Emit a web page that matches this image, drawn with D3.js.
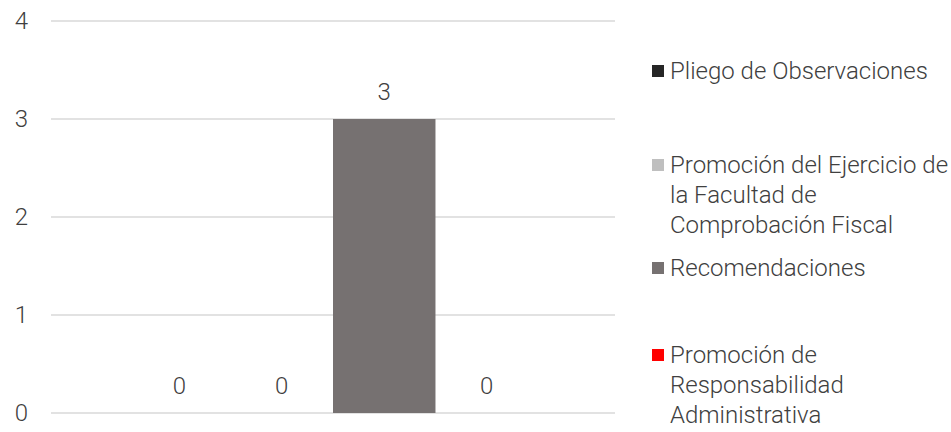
<!DOCTYPE html>
<html>
<head>
<meta charset="utf-8">
<script src="https://cdn.jsdelivr.net/npm/d3@7"></script>
<style>
  body { margin: 0; background: #fff; }
  text { font-family: "Roboto Light", Roboto, "Noto Sans", sans-serif; font-weight: 300; fill: #404040; }
</style>
</head>
<body>
<div id="chart"></div>
<script>
const categories = [""];
const seriesNames = [
  "Pliego de Observaciones",
  "Promoción del Ejercicio de la Facultad de Comprobación Fiscal",
  "Recomendaciones",
  "Promoción de Responsabilidad Administrativa"
];
const seriesValues = [0, 0, 3, 0];
const seriesColors = ["#262626", "#bfbfbf", "#767171", "#ff0000"];
const legendLines = [
  ["Pliego de Observaciones"],
  ["Promoción del Ejercicio de", "la Facultad de", "Comprobación Fiscal"],
  ["Recomendaciones"],
  ["Promoción de", "Responsabilidad", "Administrativa"]
];
const yTicks = [0, 1, 2, 3, 4];

const svgWidth = 951;
const svgHeight = 432;
const margin = { top: 21, right: 336, bottom: 19, left: 51 };
const width = svgWidth - margin.left - margin.right;
const height = svgHeight - margin.top - margin.bottom;

const svg = d3
  .select("#chart")
  .append("svg")
  .attr("width", svgWidth)
  .attr("height", svgHeight);

const g = svg.append("g").attr("transform", `translate(${margin.left},${margin.top})`);

const y = d3.scaleLinear().domain([0, 4]).range([height, 0]);
const x0 = d3.scaleBand().domain(categories).range([0, width]).paddingInner(0).paddingOuter(0.188);
const x1 = d3.scaleBand().domain(seriesNames).range([0, x0.bandwidth()]).padding(0);

// gridlines
g.append("g")
  .selectAll("line")
  .data(yTicks)
  .enter()
  .append("line")
  .attr("x1", 0)
  .attr("x2", width)
  .attr("y1", (d) => y(d))
  .attr("y2", (d) => y(d))
  .attr("stroke", "#d9d9d9")
  .attr("stroke-width", 1.3);

const yAxis = g
  .append("g")
  .style("color", "#404040")
  .call(d3.axisLeft(y).tickValues(yTicks).tickFormat(d3.format("d")).tickSize(0).tickPadding(23));
yAxis.select(".domain").remove();
yAxis
  .selectAll("text")
  .attr("font-family", null)
  .attr("font-size", null)
  .style("font-size", "24px")
  .attr("fill", "#404040");

const groups = g
  .selectAll(".grp")
  .data(categories)
  .enter()
  .append("g")
  .attr("transform", (c) => `translate(${x0(c)},0)`);

groups
  .selectAll("rect")
  .data(seriesNames.map((s, i) => ({ s, v: seriesValues[i], c: seriesColors[i] })))
  .enter()
  .append("rect")
  .attr("x", (d) => x1(d.s))
  .attr("width", x1.bandwidth())
  .attr("y", (d) => y(d.v))
  .attr("height", (d) => height - y(d.v))
  .attr("fill", (d) => d.c);

groups
  .selectAll(".lbl")
  .data(seriesNames.map((s, i) => ({ s, v: seriesValues[i] })))
  .enter()
  .append("text")
  .attr("x", (d) => x1(d.s) + x1.bandwidth() / 2)
  .attr("y", (d) => y(d.v) - 19)
  .attr("text-anchor", "middle")
  .style("font-size", "24px")
  .text((d) => d.v);

// legend
const legendY = [71, 165, 268, 355];
const legend = svg.append("g");
legendLines.forEach((lines, i) => {
  const item = legend.append("g").attr("transform", `translate(652,${legendY[i]})`);
  item.append("rect").attr("x", 0).attr("y", -6).attr("width", 12).attr("height", 12).attr("fill", seriesColors[i]);
  item
    .selectAll("text")
    .data(lines)
    .enter()
    .append("text")
    .attr("x", 18)
    .attr("y", (d, j) => j * 29.7)
    .attr("dy", "0.35em")
    .style("font-size", "24px")
    .text((d) => d);
});
</script>
</body>
</html>
